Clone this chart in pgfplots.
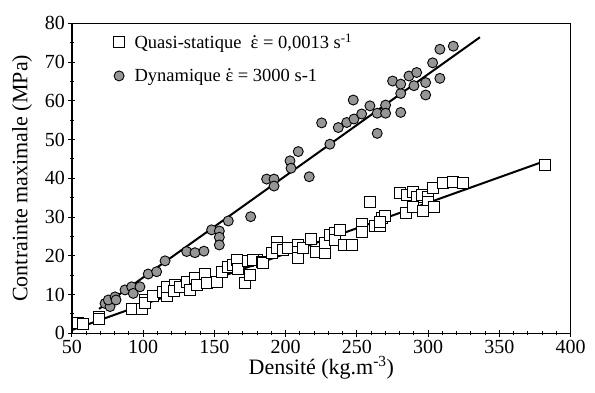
\documentclass[border=0pt]{standalone}
\usepackage{fontspec}
\setmainfont{Liberation Serif}
\usepackage{pgfplots}
\pgfplotsset{compat=1.18}
\definecolor{cgray}{RGB}{150,150,150}
\newcommand{\edot}{\ooalign{ε\cr\hidewidth\raisebox{0.6em}{.}\hidewidth\cr}}
\begin{document}
\begin{tikzpicture}
\path[use as bounding box] (-72pt,-58.7pt) rectangle (523pt,333.3pt);
\begin{axis}[
  at={(0,0)}, anchor=south west,
  width=498.7pt, height=310pt, scale only axis,
  xmin=50, xmax=400, ymin=0, ymax=80,
  xtick={50,100,...,400}, minor x tick num=4,
  ytick={0,10,...,80}, minor y tick num=1,
  tick pos=left, tick align=center,
  major tick length=7pt, minor tick length=4pt,
  every tick/.style={black, line width=1pt},
  axis line style={line width=1.3pt},
  /pgf/number format/assume math mode=true,
  tick label style={font=\fontsize{20}{24}\selectfont},
  label style={font=\fontsize{22}{26}\selectfont},
  xlabel={Densité (kg.m\textsuperscript{-3})},
  ylabel={Contrainte maximale (MPa)},
  xlabel style={yshift=4pt},
  ylabel style={yshift=6pt},
  legend style={at={(rel axis cs:0.077,0.98)}, anchor=north west, draw=none, fill=none,
    font=\fontsize{18.5}{21}\selectfont, row sep=15pt},
  legend cell align=left,
]
\addplot[only marks, mark=square*, mark size=5.5pt, mark options={fill=white, draw=black, line width=1pt}] table {
x y
54.4 2.6
57.5 2.4
69.2 4.3
69.2 3.7
91.9 6.4
98.9 6.2
101.2 8.6
101.2 7.9
107 9.5
114.1 10.7
116.5 9.7
116.5 11.9
122.3 12.5
121.5 10.9
125.8 12.0
130.5 13.3
132.8 11.2
136.3 14.2
137.5 12.5
143.3 15.3
144.5 12.9
151.5 13.3
155.1 15.9
159.7 17.0
163.2 17.6
166 18.9
166.7 16.5
171.4 13.1
174.9 15.0
173.7 18.7
179.6 18.9
177.2 18.9
183.1 18.5
184.3 18.1
190.1 20.6
194.1 23.6
194.1 21.9
198.3 21.5
201.8 21.9
208.8 22.8
208.8 21.1
208.8 19.4
212.3 21.9
217.7 24.3
221.2 21.1
227.5 20.8
227.5 23.2
231.1 25.4
234.6 26.0
234.6 24.1
238.1 26.7
240.9 22.8
246.3 22.8
253.3 28.2
253.3 26.2
259.1 33.8
262.6 27.7
266.1 27.7
267.3 29.7
269.6 30.3
266.1 28.8
280.2 36.1
284.9 35.7
289.5 36.5
291.9 35.3
295.4 35.7
300 35.3
300 34.0
303.5 37.4
310.1 38.9
317.6 39.1
324.6 38.7
284.4 31.1
289.5 32.7
296.5 31.6
304 32.7
381.9 43.4
};
\addlegendentry{\hspace*{8pt}Quasi-statique\ \ \edot\ = 0,0013 s\textsuperscript{-1}}
\addplot[only marks, mark=*, mark size=5pt, mark options={fill=cgray, draw=black, line width=0.9pt}] table {
x y
73.2 7.7
76.7 6.9
75.5 8.6
80.2 9.4
80.9 8.6
87.2 11.2
91.9 12.0
93 10.3
97.7 12.0
103.5 15.3
109.4 15.9
115.3 18.7
130.5 21.1
136.3 20.8
142.6 21.2
148 26.7
153.4 26.4
153.4 24.8
153.4 22.8
159.7 29.0
175.4 30.1
186.6 39.8
191.8 39.8
191.8 38.0
203 44.5
203.7 42.6
208.8 46.9
216.5 40.4
231 48.8
225.2 54.3
236.9 53.1
242.8 54.4
247.9 55.3
253.3 56.6
247.4 60.2
259.1 58.7
264.2 56.8
264.2 51.6
270.1 58.9
270.1 56.8
280.7 57.0
280.7 61.9
275 65.1
280.7 64.3
286.5 66.4
291.9 67.3
290 63.9
298.2 64.7
298.2 61.5
303.1 69.8
308.2 65.8
308.2 73.3
317.6 74.1
};
\addlegendentry{\hspace*{8pt}Dynamique \edot\ = 3000 s-1}
\addplot[forget plot, black, line width=2pt] coordinates {(50,0.85) (380.7,44.3)};
\addplot[forget plot, black, line width=2pt] coordinates {(69,6.3) (336.3,76.4)};
\end{axis}
\end{tikzpicture}
\end{document}
